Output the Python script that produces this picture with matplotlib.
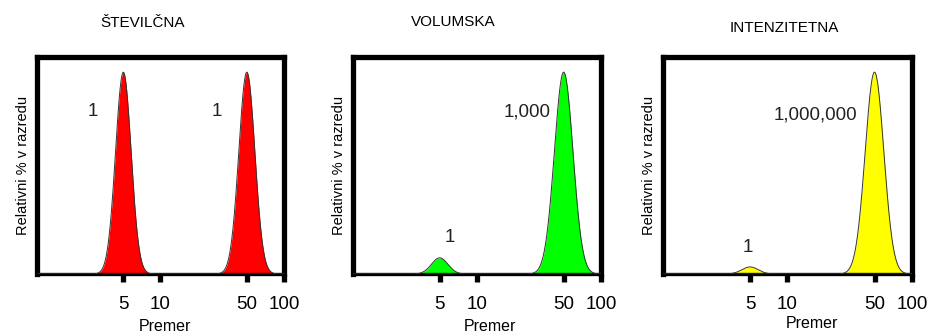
import numpy as np
import matplotlib
matplotlib.use("Agg")
import matplotlib.pyplot as plt
from matplotlib import font_manager

# --- data -------------------------------------------------------------
panel_titles = ["ŠTEVILČNA", "VOLUMSKA", "INTENZITETNA"]
peak_diameters = [5, 50]                 # nm, peak centres
number_heights = [1.0, 1.0]
volume_heights = [0.08, 1.0]
intensity_heights = [0.035, 1.0]
number_widths = [0.063, 0.065]           # peak sigma in log10 units
volume_widths = [0.066, 0.075]
intensity_widths = [0.066, 0.075]
number_labels = ["1", "1"]
volume_labels = ["1", "1,000"]
intensity_labels = ["1", "1,000,000"]
tick_values = [5, 10, 50, 100]
tick_labels = ["5", "10", "50", "100"]
fill_colors = ["#ff0000", "#00ff00", "#ffff00"]
x_label = "Premer"
y_label = "Relativni % v razredu"

heights = [number_heights, volume_heights, intensity_heights]
widths = [number_widths, volume_widths, intensity_widths]
labels = [number_labels, volume_labels, intensity_labels]

# --- fonts ------------------------------------------------------------
def available(name):
    try:
        font_manager.findfont(name, fallback_to_default=False)
        return True
    except Exception:
        return False

main_font = "Liberation Sans"
if available("Liberation Sans Narrow"):
    ylab_font, ylab_size = "Liberation Sans Narrow", 12
else:
    ylab_font, ylab_size = "Liberation Sans", 10.5
plt.rcParams["font.family"] = [main_font, "DejaVu Sans"]

# --- layout (pixels of a 937x336 canvas) --------------------------------
W, H = 937, 336
axes_px = [(37, 247), (353, 248), (663, 249)]   # left, width
top_px, bottom_px = 57, 274
title_px = [(143, 23), (453, 22), (784, 28)]
xlabel_px = [(165, 331), (490, 331), (812, 328)]
# label anchors in axes fraction: (small-peak label, large-peak label)
label_pos = [
    [(0.227, 0.747), (0.729, 0.747)],
    [(0.391, 0.166), (0.702, 0.747)],
    [(0.341, 0.124), (0.614, 0.733)],
]

fig = plt.figure(figsize=(W / 100, H / 100), dpi=100)
x = np.logspace(0, 2, 800)

for i in range(3):
    left, width = axes_px[i]
    ax = fig.add_axes([left / W, 1 - bottom_px / H, width / W,
                       (bottom_px - top_px) / H])
    for c, h, s in zip(peak_diameters, heights[i], widths[i]):
        y = h * np.exp(-0.5 * ((np.log10(x) - np.log10(c)) / s) ** 2)
        ax.fill_between(x, 0, y, color=fill_colors[i], lw=0, zorder=2)
        ax.plot(x, y, color="#333333", lw=0.7, zorder=3)

    ax.set_xscale("log")
    ax.set_xlim(1, 100)
    ax.set_ylim(0, 1.075)
    ax.set_xticks(tick_values)
    ax.set_xticklabels(tick_labels)
    ax.xaxis.set_minor_locator(matplotlib.ticker.NullLocator())
    ax.set_yticks([])
    ax.tick_params(axis="x", direction="out", length=6, width=3.8,
                   color="black", labelsize=13.5, pad=9.5)

    for side in ["left", "top", "right"]:
        ax.spines[side].set_linewidth(3.8)
    ax.spines["bottom"].set_linewidth(2.4)
    for sp in ax.spines.values():
        sp.set_color("black")
        sp.set_capstyle("projecting")

    ax.set_ylabel(y_label, family=[ylab_font, "DejaVu Sans"],
                  fontsize=ylab_size, labelpad=5)

    for (fx, fy), txt in zip(label_pos[i], labels[i]):
        ax.text(fx, fy, txt, transform=ax.transAxes, ha="center",
                va="center", fontsize=13.5, color="#222222")

    tx, ty = title_px[i]
    fig.text(tx / W, 1 - ty / H, panel_titles[i], ha="center",
             va="center", fontsize=11)
    lx, ly = xlabel_px[i]
    fig.text(lx / W, 1 - ly / H, x_label, ha="center", va="baseline",
             fontsize=11.5)

fig.savefig("out.png", dpi=100)
